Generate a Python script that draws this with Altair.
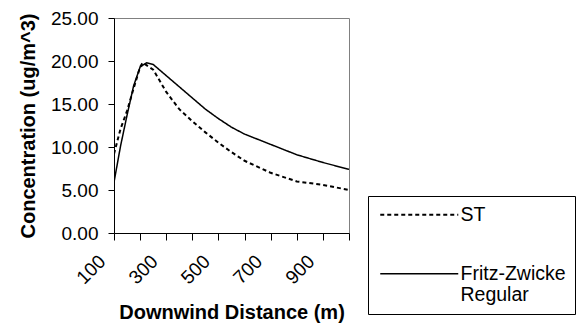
import altair as alt
import pandas as pd

# Series names (legend order)
series_names = ["ST", "Fritz-Zwicke Regular"]

# Fritz-Zwicke Regular (solid)
fz_dist = [100, 125, 150, 175, 200, 225, 250, 300, 350, 400, 450, 500, 550, 600, 650, 700, 800, 900, 1000]
fz_conc = [5.9, 10.1, 13.7, 17.1, 19.3, 19.8, 19.6, 18.3, 17.0, 15.7, 14.4, 13.3, 12.3, 11.5, 10.9, 10.3, 9.1, 8.2, 7.4]

# ST (dashed)
st_dist = [100, 125, 150, 175, 200, 210, 250, 300, 350, 400, 450, 500, 550, 600, 700, 800, 900, 1000]
st_conc = [9.2, 12.1, 14.2, 16.8, 19.3, 19.8, 19.0, 16.4, 14.4, 13.0, 11.7, 10.5, 9.4, 8.4, 7.0, 6.0, 5.6, 5.0]

x_ticks = [100, 200, 300, 400, 500, 600, 700, 800, 900, 1000]
y_ticks = [0, 5, 10, 15, 20, 25]

df = pd.DataFrame({
    "distance": fz_dist + st_dist,
    "conc": fz_conc + st_conc,
    "series": [series_names[1]] * len(fz_dist) + [series_names[0]] * len(st_dist),
})

font = "Liberation Sans"

chart = alt.Chart(df).mark_line(color="black", clip=True).encode(
    x=alt.X(
        "distance:Q",
        scale=alt.Scale(domain=[100, 1000], nice=False, zero=False),
        axis=alt.Axis(
            title="Downwind Distance (m)",
            values=x_ticks,
            format="d",
            labelExpr="datum.value % 200 == 100 ? datum.label : ''",
            labelAngle=-45,
            labelAlign="right",
            labelBaseline="middle",
            labelOffset=-12,
            labelPadding=18,
            labelOverlap=False,
            tickSize=7,
            titlePadding=15,
            grid=False,
        ),
    ),
    y=alt.Y(
        "conc:Q",
        scale=alt.Scale(domain=[0, 25], nice=False),
        axis=alt.Axis(
            title="Concentration (ug/m^3)",
            values=y_ticks,
            format=".2f",
            tickSize=6,
            labelPadding=10,
            titlePadding=12,
            grid=False,
        ),
    ),
    strokeDash=alt.StrokeDash(
        "series:N",
        scale=alt.Scale(domain=series_names, range=[[4, 3], [1, 0]]),
        legend=alt.Legend(
            title=None,
            orient="none",
            legendX=254,
            legendY=178,
            symbolType="M-1,0H11",
            symbolSize=169,
            symbolStrokeWidth=1.5,
            symbolStrokeColor="black",
            symbolFillColor="transparent",
            labelFont=font,
            labelFontSize=19.5,
            labelColor="black",
            labelOffset=64,
            labelLimit=300,
            labelExpr="datum.label == 'ST' ? 'ST' : ['Fritz-Zwicke', 'Regular']",
            strokeColor="black",
            fillColor="white",
            padding=9,
            rowPadding=38,
        ),
    ),
    strokeWidth=alt.StrokeWidth(
        "series:N",
        scale=alt.Scale(domain=series_names, range=[2, 1.5]),
        legend=None,
    ),
).properties(
    width=235,
    height=215,
    background="white",
    autosize=alt.AutoSizeParams(type="none"),
    padding={"left": 114, "top": 18, "right": 227, "bottom": 92},
).configure_view(
    stroke="#808080",
    strokeWidth=1,
).configure_axis(
    domainColor="black",
    tickColor="black",
    labelColor="black",
    titleColor="black",
    labelFont=font,
    titleFont=font,
    labelFontSize=19,
    titleFontSize=20,
    titleFontWeight="bold",
)

chart.save("out.html", embed_options={"renderer": "svg", "actions": False})
